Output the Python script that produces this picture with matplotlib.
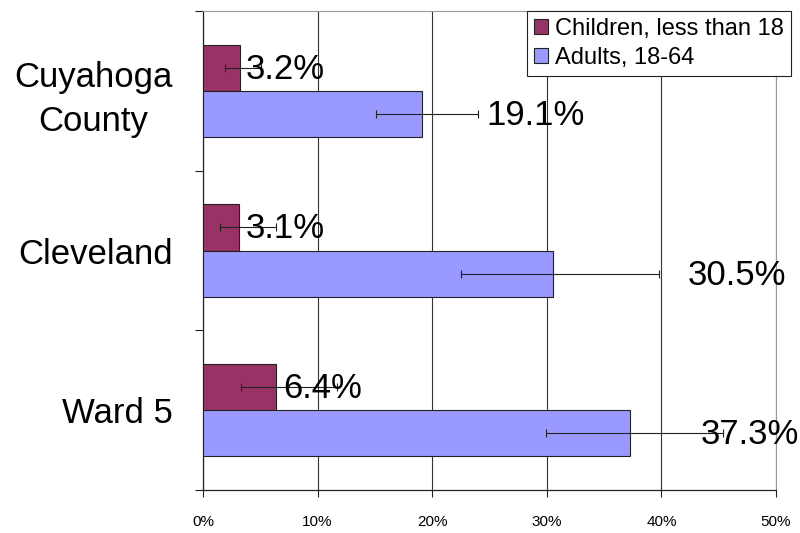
import matplotlib
matplotlib.use("Agg")
import matplotlib.pyplot as plt
import numpy as np

plt.rcParams['font.family'] = ['Liberation Sans', 'DejaVu Sans']

categories = ["Cuyahoga\nCounty", "Cleveland", "Ward 5"]
series_names = ["Children, less than 18", "Adults, 18-64"]
children = [3.2, 3.1, 6.4]
adults = [19.1, 30.5, 37.3]
children_lo = [1.9, 1.5, 3.3]
children_hi = [5.1, 6.4, 11.7]
adults_lo = [15.1, 22.5, 29.9]
adults_hi = [24.0, 39.8, 45.4]
children_labels = ["3.2%", "3.1%", "6.4%"]
adults_labels = ["19.1%", "30.5%", "37.3%"]
xticks = [0, 10, 20, 30, 40, 50]
xtick_labels = ["0%", "10%", "20%", "30%", "40%", "50%"]

# label placement (layout, in data units of left edge)
children_label_x = [3.75, 3.7, 7.0]
adults_label_x = [24.7, 42.3, 43.4]

c_child = "#993366"
c_adult = "#9999FF"

fig = plt.figure(figsize=(8, 5.33), dpi=100)
ax = fig.add_axes([203/800, 1-490/533, (776-203)/800, (490-11)/533])

y = np.arange(len(categories))
h = 0.29
off = 0.145

ax.barh(y - off, children, height=h, color=c_child, edgecolor="#222222", linewidth=0.8,
        label=series_names[0], zorder=3)
ax.barh(y + off, adults, height=h, color=c_adult, edgecolor="#222222", linewidth=0.8,
        label=series_names[1], zorder=3)

cerr = np.array([np.array(children) - np.array(children_lo), np.array(children_hi) - np.array(children)])
aerr = np.array([np.array(adults) - np.array(adults_lo), np.array(adults_hi) - np.array(adults)])
ax.errorbar(children, y - off, xerr=cerr, fmt='none', ecolor="#222222", elinewidth=0.8,
            capsize=3, capthick=0.8, zorder=4)
ax.errorbar(adults, y + off, xerr=aerr, fmt='none', ecolor="#222222", elinewidth=0.8,
            capsize=3, capthick=0.8, zorder=4)

for i in range(len(categories)):
    ax.text(children_label_x[i], y[i] - off + 0.01, children_labels[i], fontsize=25,
            ha='left', va='center', zorder=5)
    ax.text(adults_label_x[i], y[i] + off + 0.01, adults_labels[i], fontsize=25,
            ha='left', va='center', zorder=5)

ax.set_xlim(0, 50)
ax.set_ylim(len(categories) - 0.5, -0.5)
ax.set_xticks(xticks)
ax.set_xticklabels(xtick_labels, fontsize=11)
ax.tick_params(axis='x', direction='out', length=5, width=0.8, pad=13, color='#222222')

ax.set_yticks(y)
ax.set_yticklabels(categories, fontsize=25, multialignment='center', linespacing=1.4)
ax.tick_params(axis='y', which='major', length=0, pad=22)
ax.set_yticks([-0.5, 0.5, 1.5, 2.5], minor=True)
ax.tick_params(axis='y', which='minor', direction='out', length=6, width=0.8, color='#222222')

ax.grid(axis='x', color='#333333', linewidth=0.8, zorder=0)
ax.set_axisbelow(True)

for s in ['left', 'bottom']:
    ax.spines[s].set_color('#222222')
    ax.spines[s].set_linewidth(0.9)
for s in ['top', 'right']:
    ax.spines[s].set_color('#999999')
    ax.spines[s].set_linewidth(0.8)

leg = fig.legend(loc='upper right', bbox_to_anchor=(791/800, 1-11/533), fontsize=17,
                 frameon=True, fancybox=False, edgecolor='#222222', framealpha=1,
                 handlelength=0.6, handleheight=0.6, handletextpad=0.3,
                 borderpad=0.3, labelspacing=0.3, borderaxespad=0)
leg.get_frame().set_linewidth(0.8)

fig.savefig("out.png", dpi=100)
